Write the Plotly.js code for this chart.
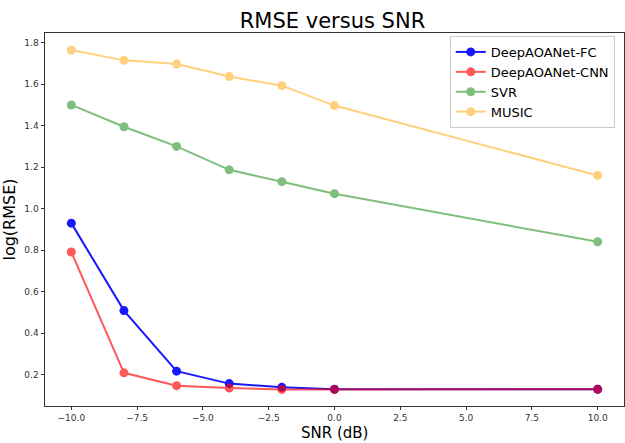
<!DOCTYPE html>
<html>
<head>
<meta charset="utf-8">
<script src="https://cdn.plot.ly/plotly-3.0.1.min.js"></script>
<style>html,body{margin:0;padding:0;background:#fff;}#chart{width:625px;height:443px;}</style>
</head>
<body>
<div id="chart"></div>
<script>
var snr = [-10, -8, -6, -4, -2, 0, 10];
var fcValues = [0.93, 0.508, 0.216, 0.156, 0.138, 0.129, 0.129];
var cnnValues = [0.791, 0.208, 0.146, 0.135, 0.128, 0.128, 0.129];
var svrValues = [1.50, 1.395, 1.30, 1.187, 1.13, 1.072, 0.84];
var musicValues = [1.765, 1.715, 1.697, 1.637, 1.593, 1.497, 1.16];
var seriesNames = ['DeepAOANet-FC', 'DeepAOANet-CNN', 'SVR', 'MUSIC'];

function tr(name, y, color, op) {
  return {
    x: snr, y: y, name: name, type: 'scatter', mode: 'lines+markers',
    line: {color: color, width: 2}, marker: {color: color, size: 9},
    opacity: op
  };
}
var data = [
  tr(seriesNames[0], fcValues, 'blue', 0.9),
  tr(seriesNames[1], cnnValues, 'red', 0.65),
  tr(seriesNames[2], svrValues, 'green', 0.5),
  tr(seriesNames[3], musicValues, 'orange', 0.5)
];
var font = 'DejaVu Sans, sans-serif';
var layout = {
  width: 625, height: 443,
  margin: {l: 45, r: 1, t: 33, b: 37},
  paper_bgcolor: '#fff', plot_bgcolor: '#fff',
  font: {family: font, color: '#333', size: 9},
  title: {text: 'RMSE versus SNR', font: {size: 21, color: '#000', family: font},
          x: 0.532, xanchor: 'center', y: 0.953, yanchor: 'middle', yref: 'container', xref: 'container'},
  xaxis: {range: [-11, 11], tickvals: [-10, -7.5, -5, -2.5, 0, 2.5, 5, 7.5, 10], tickformat: '.1f',
          ticks: 'outside', ticklen: 3, tickcolor: '#333', showgrid: false, zeroline: false,
          showline: true, linecolor: '#333', linewidth: 1, mirror: true},
  yaxis: {range: [0.048, 1.847], tickvals: [0.2, 0.4, 0.6, 0.8, 1.0, 1.2, 1.4, 1.6, 1.8], tickformat: '.1f',
          ticks: 'outside', ticklen: 3.5, tickcolor: '#333', showgrid: false, zeroline: false,
          showline: true, linecolor: '#333', linewidth: 1, mirror: true,
          title: {text: 'log(RMSE)', font: {size: 16, color: '#000'}, standoff: 6}},
  annotations: [{text: 'SNR (dB)', xref: 'paper', yref: 'paper', x: 0.5, y: -0.0985,
                 xanchor: 'center', yanchor: 'bottom', showarrow: false, borderpad: 0,
                 font: {size: 15, color: '#000', family: font}}],
  legend: {x: 0.984, xanchor: 'right', y: 0.992, yanchor: 'top', traceorder: 'normal',
           bgcolor: 'rgba(255,255,255,0.8)', bordercolor: '#ccc', borderwidth: 1,
           font: {size: 13, color: '#000'}},
  showlegend: true
};
Plotly.newPlot('chart', data, layout, {displayModeBar: false, staticPlot: true});
</script>
</body>
</html>
